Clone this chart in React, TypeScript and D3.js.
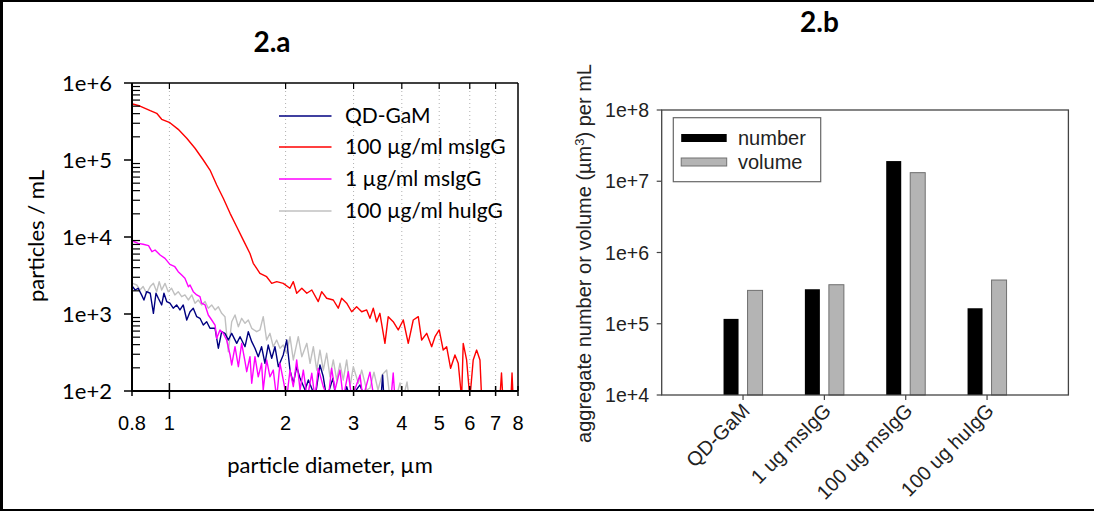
import React from 'react';
import * as d3 from 'd3';

type Pt = [number, number];

// ---- Panel 2.a data: [particle diameter (µm), particles / mL] ----
const qdGaM: Pt[] = [
  [0.803, 2270], [0.815, 2050], [0.83, 2160], [0.847, 1770], [0.859, 1520], [0.873, 1950], [0.892, 1860],
  [0.909, 1020], [0.923, 1860], [0.936, 1600], [0.955, 1310], [0.968, 1860], [0.984, 1450], [1.003, 1380],
  [1.023, 1190], [1.044, 1310], [1.065, 1130], [1.086, 1310], [1.109, 836], [1.131, 1070], [1.153, 1190],
  [1.177, 923], [1.2, 879], [1.224, 719], [1.249, 794], [1.274, 652], [1.313, 652], [1.339, 359],
  [1.366, 589], [1.393, 561], [1.421, 459], [1.45, 561], [1.494, 416], [1.524, 507], [1.57, 376],
  [1.601, 589], [1.634, 437], [1.666, 359], [1.699, 279], [1.733, 376], [1.768, 229], [1.803, 395],
  [1.841, 266], [1.877, 376], [1.915, 207], [1.972, 294], [2.013, 459], [2.053, 187], [2.094, 126],
  [2.137, 207], [2.18, 146], [2.246, 103], [2.291, 139], [2.338, 108], [2.383, 80], [2.455, 218],
  [2.504, 153], [2.555, 80], [2.653, 147], [2.7, 80], [2.821, 80], [2.879, 114], [2.937, 80],
  [3.117, 120], [3.21, 80], [3.532, 80], [3.568, 161], [3.595, 80],
];

const ms100: Pt[] = [
  [0.803, 533000], [0.839, 502000], [0.892, 437000], [0.927, 404000], [0.955, 338000], [1.003, 305000],
  [1.054, 250000], [1.109, 192000], [1.165, 142000], [1.224, 100000], [1.274, 74000], [1.326, 47300],
  [1.379, 31800], [1.436, 20300], [1.494, 13600], [1.554, 9100], [1.617, 6100], [1.649, 4550],
  [1.683, 3920], [1.716, 3380], [1.786, 3050], [1.841, 2500], [1.897, 2630], [1.972, 2500],
  [2.052, 2160], [2.094, 2630], [2.137, 1860], [2.203, 2160], [2.27, 1860], [2.338, 2050],
  [2.43, 1450], [2.48, 1950], [2.555, 1600], [2.658, 1520], [2.738, 1190], [2.794, 1600],
  [2.879, 1380], [2.966, 1070], [3.055, 1240], [3.149, 1070], [3.244, 1130], [3.308, 880],
  [3.374, 1190], [3.442, 794], [3.51, 1020], [3.617, 416], [3.689, 923], [3.8, 794], [3.916, 620],
  [4.035, 836], [4.157, 416], [4.283, 836], [4.413, 923], [4.503, 459], [4.64, 561], [4.78, 376],
  [4.876, 507], [5.0, 620], [5.121, 340], [5.226, 376], [5.352, 197], [5.492, 294], [5.601, 229],
  [5.715, 80], [5.77, 416], [5.888, 253], [6.004, 80], [6.124, 253], [6.25, 340], [6.376, 253],
  [6.44, 80], [6.77, 80], [7.18, 80], [7.25, 171], [7.31, 80], [7.67, 80], [7.72, 171], [7.77, 80],
];

const ms1: Pt[] = [
  [0.803, 8870], [0.83, 8280], [0.855, 8040], [0.883, 7710], [0.901, 6440], [0.918, 6780], [0.946, 5840],
  [0.974, 5280], [1.003, 4410], [1.033, 4110], [1.054, 3540], [1.076, 3200], [1.097, 2910], [1.12, 2260],
  [1.131, 2380], [1.153, 1950], [1.177, 1770], [1.2, 1680], [1.212, 1380], [1.237, 1310], [1.261, 971],
  [1.287, 836], [1.313, 719], [1.326, 483], [1.352, 620], [1.379, 561], [1.407, 459], [1.436, 294],
  [1.45, 218], [1.479, 376], [1.509, 207], [1.539, 416], [1.57, 240], [1.586, 178], [1.617, 279],
  [1.634, 126], [1.666, 279], [1.699, 153], [1.733, 229], [1.75, 103], [1.786, 253], [1.822, 153],
  [1.858, 187], [1.896, 80], [1.934, 229], [1.972, 139], [2.013, 80], [2.053, 187], [2.094, 114],
  [2.137, 253], [2.18, 103], [2.223, 187], [2.276, 80], [2.338, 170], [2.383, 80], [2.43, 197],
  [2.504, 114], [2.579, 80], [2.632, 197], [2.685, 103], [2.766, 187], [2.821, 80], [2.907, 178],
  [2.966, 80], [3.117, 161], [3.171, 80], [3.308, 176], [3.388, 80], [3.75, 80], [3.8, 171], [3.839, 80],
];

const hu100: Pt[] = [
  [0.803, 2500], [0.823, 2380], [0.839, 2050], [0.855, 2270], [0.873, 1860], [0.892, 2270], [0.909, 2500],
  [0.927, 1950], [0.941, 2630], [0.955, 2050], [0.974, 2500], [0.993, 1950], [1.013, 2160], [1.033, 1770],
  [1.054, 1950], [1.076, 1680], [1.097, 1770], [1.12, 1520], [1.143, 1770], [1.165, 1380], [1.188, 1520],
  [1.212, 1310], [1.237, 1450], [1.261, 1190], [1.287, 1310], [1.313, 1130], [1.339, 1240], [1.366, 1020],
  [1.393, 923], [1.421, 324], [1.45, 794], [1.479, 971], [1.509, 684], [1.539, 879], [1.57, 757],
  [1.601, 836], [1.634, 652], [1.683, 589], [1.716, 620], [1.75, 923], [1.786, 459], [1.822, 561],
  [1.858, 376], [1.896, 459], [1.934, 359], [1.972, 395], [2.013, 309], [2.053, 507], [2.094, 253],
  [2.157, 507], [2.203, 279], [2.27, 416], [2.314, 229], [2.36, 376], [2.408, 187], [2.455, 340],
  [2.504, 187], [2.555, 309], [2.606, 153], [2.658, 253], [2.712, 139], [2.766, 229], [2.821, 139],
  [2.879, 253], [2.937, 114], [2.995, 207], [3.086, 126], [3.149, 187], [3.244, 103], [3.308, 109],
  [3.388, 176], [3.47, 103], [3.554, 161], [3.655, 187], [3.727, 80], [3.863, 80], [3.957, 127],
  [4.03, 80], [4.127, 131], [4.177, 80],
];

const seriesNames = ['QD-GaM', '100 µg/ml msIgG', '1 µg/ml msIgG', '100 µg/ml huIgG'];
const seriesColors = ['#000080', '#ff0000', '#ff00ff', '#c0c0c0'];

const leftYTicks = [1e2, 1e3, 1e4, 1e5, 1e6];
const leftYTickLabels = ['1e+2', '1e+3', '1e+4', '1e+5', '1e+6'];
const leftXTicks = [0.8, 1, 2, 3, 4, 5, 6, 7, 8];
const leftXTickLabels = ['0.8', '1', '2', '3', '4', '5', '6', '7', '8'];
const leftGrid = [1, 2, 3, 4, 5, 6, 7];

// ---- Panel 2.b data ----
const barCategories = ['QD-GaM', '1 ug msIgG', '100 ug msIgG', '100 ug huIgG'];
const numberValues = [1.17e5, 3.05e5, 1.92e7, 1.65e5];
const volumeValues = [2.94e5, 3.53e5, 1.32e7, 4.11e5];
const rightYTicks = [1e4, 1e5, 1e6, 1e7, 1e8];
const rightYTickLabels = ['1e+4', '1e+5', '1e+6', '1e+7', '1e+8'];
const barLegend = ['number', 'volume'];

const LFONT = 'Lato, "Open Sans", sans-serif';
const AFONT = '"Liberation Sans", Arial, sans-serif';

export default function App() {
  // left panel geometry
  const L = { x0: 132, x1: 518, y0: 83, y1: 391 };
  const xL = d3.scaleLog().domain([0.8, 8]).range([L.x0, L.x1]);
  const yL = d3.scaleLog().domain([100, 1e6]).range([L.y1, L.y0]);
  const line = d3.line<Pt>().x(d => xL(d[0])).y(d => yL(d[1]));
  const drawOrder: [Pt[], number][] = [[hu100, 3], [qdGaM, 0], [ms1, 2], [ms100, 1]];

  const minorL: number[] = [];
  for (let p = 2; p < 6; p++) for (let k = 2; k <= 9; k++) minorL.push(k * Math.pow(10, p));

  // right panel geometry
  const R = { x0: 661.7, x1: 1068.4, y0: 110, y1: 395 };
  const xR = d3.scalePoint<string>().domain(barCategories).range([R.x0, R.x1]).padding(1);
  const yR = d3.scaleLog().domain([1e4, 1e8]).range([R.y1, R.y0]);
  const barW = 15;
  const barOff = 12;

  return (
    <svg width={1094} height={511} style={{ display: 'block', background: '#fff' }}>
      <style>{`body{margin:0}`}</style>
      <rect x={0} y={0} width={1094} height={511} fill="#fff" />
      {/* outer frame */}
      <rect x={0} y={0} width={3} height={511} fill="#000" />
      <rect x={0} y={0} width={1094} height={2} fill="#000" />
      <rect x={0} y={509} width={1094} height={2} fill="#000" />

      {/* ================= 2.a ================= */}
      <text x={272} y={52} textAnchor="middle" fontFamily={LFONT} fontWeight={700} fontSize={28}>2.a</text>
      <defs>
        <clipPath id="clipL">
          <rect x={L.x0} y={L.y0} width={L.x1 - L.x0} height={L.y1 - L.y0} />
        </clipPath>
      </defs>
      {leftGrid.map(g => (
        <line key={'g' + g} x1={xL(g)} x2={xL(g)} y1={L.y0} y2={L.y1} stroke="#b0b0b0" strokeWidth={1} strokeDasharray="1 3" />
      ))}
      <g clipPath="url(#clipL)">
        {drawOrder.map(([data, ci]) => (
          <path key={'s' + ci} d={line(data) || ''} fill="none" stroke={seriesColors[ci]} strokeWidth={1.4} strokeLinejoin="round" />
        ))}
      </g>
      {/* frame */}
      <line x1={L.x0} x2={L.x1} y1={L.y0} y2={L.y0} stroke="#000" strokeWidth={1.5} />
      <line x1={L.x1} x2={L.x1} y1={L.y0} y2={L.y1} stroke="#000" strokeWidth={1.5} />
      <line x1={L.x0} x2={L.x0} y1={L.y0} y2={L.y1 + 1} stroke="#000" strokeWidth={2} />
      <line x1={L.x0 - 1} x2={L.x1} y1={L.y1} y2={L.y1} stroke="#000" strokeWidth={2} />
      {/* y ticks */}
      {leftYTicks.map((t, i) => (
        <g key={'ly' + t}>
          <line x1={L.x0 - 8} x2={L.x0} y1={yL(t)} y2={yL(t)} stroke="#000" strokeWidth={1.5} />
          <text x={112} y={yL(t) + 8} textAnchor="end" fontFamily={LFONT} fontSize={22}>{leftYTickLabels[i]}</text>
        </g>
      ))}
      {minorL.map(t => (
        <line key={'lm' + t} x1={L.x0} x2={L.x0 + 8} y1={yL(t)} y2={yL(t)} stroke="#000" strokeWidth={1.2} />
      ))}
      {/* x ticks */}
      {leftXTicks.map((t, i) => (
        <g key={'lx' + t}>
          <line x1={xL(t)} x2={xL(t)} y1={L.y1 - (t === 1 ? 8 : 5)} y2={L.y1 + (t === 1 ? 8 : 5)} stroke="#000" strokeWidth={1.5} />
          {t > 0.8 && t < 8 && (
            <line x1={xL(t)} x2={xL(t)} y1={L.y0} y2={L.y0 + 6} stroke="#000" strokeWidth={1.2} />
          )}
          <text x={xL(t)} y={430} textAnchor="middle" fontFamily={AFONT} fontSize={20}>{leftXTickLabels[i]}</text>
        </g>
      ))}
      <text x={330} y={473} textAnchor="middle" fontFamily={LFONT} fontSize={22}>particle diameter, µm</text>
      <text transform="translate(44,236) rotate(-90)" textAnchor="middle" fontFamily={LFONT} fontSize={22}>particles / mL</text>
      {/* legend */}
      {seriesNames.map((n, i) => {
        const yy = [116, 147, 179, 211][i];
        return (
          <g key={'lg' + i}>
            <line x1={279} x2={331.5} y1={yy} y2={yy} stroke={seriesColors[i]} strokeWidth={1.5} />
            <text x={345} y={yy + 7} fontFamily={LFONT} fontSize={21}>{n}</text>
          </g>
        );
      })}

      {/* ================= 2.b ================= */}
      <text x={819.5} y={32} textAnchor="middle" fontFamily={LFONT} fontWeight={700} fontSize={28}>2.b</text>
      {barCategories.map((c, i) => {
        const cx = xR(c) as number;
        return (
          <g key={'b' + c}>
            <rect x={cx - barOff - barW / 2} y={yR(numberValues[i])} width={barW} height={R.y1 - yR(numberValues[i])} fill="#000" />
            <rect x={cx + barOff - barW / 2} y={yR(volumeValues[i])} width={barW} height={R.y1 - yR(volumeValues[i])} fill="#b4b4b4" stroke="#707070" strokeWidth={1} />
            <line x1={cx} x2={cx} y1={R.y1} y2={R.y1 + 5} stroke="#444" strokeWidth={1.2} />
            <text transform={`translate(${cx + 8},412) rotate(-45)`} textAnchor="end" fontFamily={AFONT} fontSize={20} fill="#222">{c}</text>
          </g>
        );
      })}
      <rect x={R.x0} y={R.y0} width={R.x1 - R.x0} height={R.y1 - R.y0} fill="none" stroke="#444" strokeWidth={1.3} />
      {rightYTicks.map((t, i) => (
        <g key={'ry' + t}>
          <line x1={R.x0 - 5} x2={R.x0} y1={yR(t)} y2={yR(t)} stroke="#444" strokeWidth={1.2} />
          <text x={649} y={yR(t) + 7} textAnchor="end" fontFamily={AFONT} fontSize={19.5} fill="#222">{rightYTickLabels[i]}</text>
        </g>
      ))}
      <text transform="translate(591,253.5) rotate(-90)" textAnchor="middle" fontFamily={AFONT} fontSize={20} fill="#222">
        aggregate number or volume (µm<tspan dy={-7} fontSize={13}>3</tspan><tspan dy={7}>) per mL</tspan>
      </text>
      {/* legend */}
      <rect x={673.3} y={117.7} width={147.4} height={64} fill="#fff" stroke="#666" strokeWidth={1.2} />
      <rect x={681.2} y={134} width={45.5} height={8} fill="#000" />
      <rect x={681.2} y={158} width={45.5} height={8} fill="#b4b4b4" stroke="#707070" strokeWidth={1} />
      <text x={738} y={145} fontFamily={AFONT} fontSize={20} fill="#222">{barLegend[0]}</text>
      <text x={738} y={169} fontFamily={AFONT} fontSize={20} fill="#222">{barLegend[1]}</text>
    </svg>
  );
}
